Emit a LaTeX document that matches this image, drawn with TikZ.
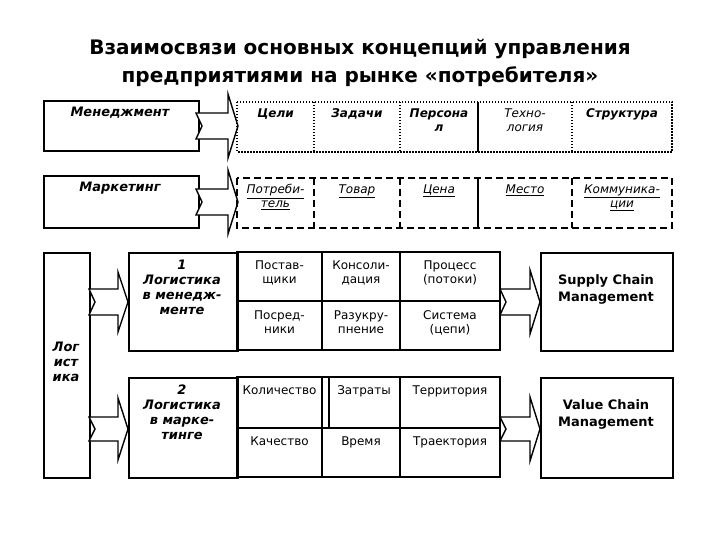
\documentclass[tikz,border=0pt]{standalone}
\usepackage{fontspec}
\setmainfont{DejaVu Sans}
\newcommand{\uln}[1]{\underline{#1}}
\begin{document}
\begin{tikzpicture}[x=1pt,y=-1pt,
  box/.style={draw,line width=1.6pt,fill=white},
  lbl/.style={font=\fontsize{13}{15}\selectfont\bfseries\itshape,align=center,anchor=north},
  cel/.style={font=\fontsize{12}{14}\selectfont,align=center,anchor=north},
  celi/.style={font=\fontsize{12}{14}\selectfont\itshape,align=center,anchor=north},
  celbi/.style={font=\fontsize{12}{14}\selectfont\bfseries\itshape,align=center,anchor=north},
  dsh/.style={line width=1.6pt,dash pattern=on 7pt off 4pt},
  dtt/.style={line width=1.8pt,dash pattern=on 1.5pt off 1.5pt},
  arr/.style={draw,line width=1.4pt,fill=white,line join=miter}]
\useasboundingbox (0,0) rectangle (720,540);
\fill[white] (0,0) rectangle (720,540);
\newcommand{\blkarrow}[6]{\path[arr] (#1,#4-#5) -- (#2,#4-#5) -- (#2,#4-#6) -- (#3,#4) -- (#2,#4+#6) -- (#2,#4+#5) -- (#1,#4+#5) -- (#1+6,#4) -- cycle;}
\node[font=\fontsize{20}{28}\selectfont\bfseries,align=center] (title) at (360,63) {Взаимосвязи основных концепций управления\\предприятиями на рынке «потребителя»};
\node[box,minimum width=155,minimum height=50,anchor=north west] (man) at (43,100) {};
\node[lbl] at (120,103) {Менеджмент};
\node[box,minimum width=155,minimum height=52,anchor=north west] (mar) at (43,175) {};
\node[lbl] at (120,178) {Маркетинг};
\blkarrow{196}{228}{238}{126}{13}{32}
\blkarrow{196}{228}{238}{202}{13}{32}
\draw[dtt] (237,102) rectangle (672,152);
\draw[dtt] (314,102) -- (314,152) (400,102) -- (400,152) (572,102) -- (572,152);
\draw[line width=1.6pt] (478,102) -- (478,152);
\node[celbi] (c11) at (275.5,105) {Цели};
\node[celbi] (c12) at (357,105) {Задачи};
\node[celbi] (c13) at (439,105) {Персона\\л};
\node[celi] (c14) at (525,105) {Техно-\\логия};
\node[celbi] (c15) at (622,105) {Структура};
\draw[dsh] (237,178) rectangle (672,228);
\draw[dsh] (314,178) -- (314,228) (400,178) -- (400,228) (572,178) -- (572,228);
\draw[line width=1.6pt] (478,178) -- (478,228);
\node[celi] (c21) at (275.5,181) {\uln{Потреби-}\\\uln{тель}};
\node[celi] (c22) at (357,181) {\uln{Товар}};
\node[celi] (c23) at (439,181) {\uln{Цена}};
\node[celi] (c24) at (525,181) {\uln{Место}};
\node[celi] (c25) at (622,181) {\uln{Коммуника-}\\\uln{ции}};
\node[box,minimum width=46,minimum height=225,anchor=north west] (log) at (43,252) {};
\node[lbl] at (66,338) {Лог\\ист\\ика};
\node[box,minimum width=109,minimum height=98,anchor=north west] (l1) at (128,252) {};
\node[lbl] at (182,256) {1\\Логистика\\в менедж-\\менте};
\node[box,minimum width=109,minimum height=100,anchor=north west] (l2) at (128,377) {};
\node[lbl] at (182,381) {2\\Логистика\\в марке-\\тинге};
\blkarrow{89}{118}{128}{302}{13}{30}
\blkarrow{89}{118}{128}{429}{12}{31}
\draw[line width=1.6pt] (237,252) rectangle (500,350) (237,301) -- (500,301) (322,252) -- (322,350) (400,252) -- (400,350);
\node[cel] at (279.5,257) {Постав-\\щики};
\node[cel] at (361,257) {Консоли-\\дация};
\node[cel] at (450,257) {Процесс\\(потоки)};
\node[cel] at (279.5,307) {Посред-\\ники};
\node[cel] at (361,307) {Разукру-\\пнение};
\node[cel] at (450,307) {Система\\(цепи)};
\draw[line width=1.6pt] (237,377) rectangle (500,477) (237,428) -- (500,428) (322,377) -- (322,477) (400,377) -- (400,477) (329,377) -- (329,428);
\node[cel] at (279.5,382) {Количество};
\node[cel] at (364,382) {Затраты};
\node[cel] at (450,382) {Территория};
\node[cel] at (279.5,433) {Качество};
\node[cel] at (361,433) {Время};
\node[cel] at (450,433) {Траектория};
\blkarrow{500}{530}{540}{302}{13}{32}
\blkarrow{500}{530}{540}{429}{12}{32}
\node[box,minimum width=132,minimum height=98,anchor=north west] (scm) at (540,252) {};
\node[cel,font=\fontsize{13}{17}\selectfont\bfseries] at (606,271) {Supply Chain\\Management};
\node[box,minimum width=132,minimum height=100,anchor=north west] (vcm) at (540,377) {};
\node[cel,font=\fontsize{13}{17}\selectfont\bfseries] at (606,396) {Value Chain\\Management};
\end{tikzpicture}
\end{document}
